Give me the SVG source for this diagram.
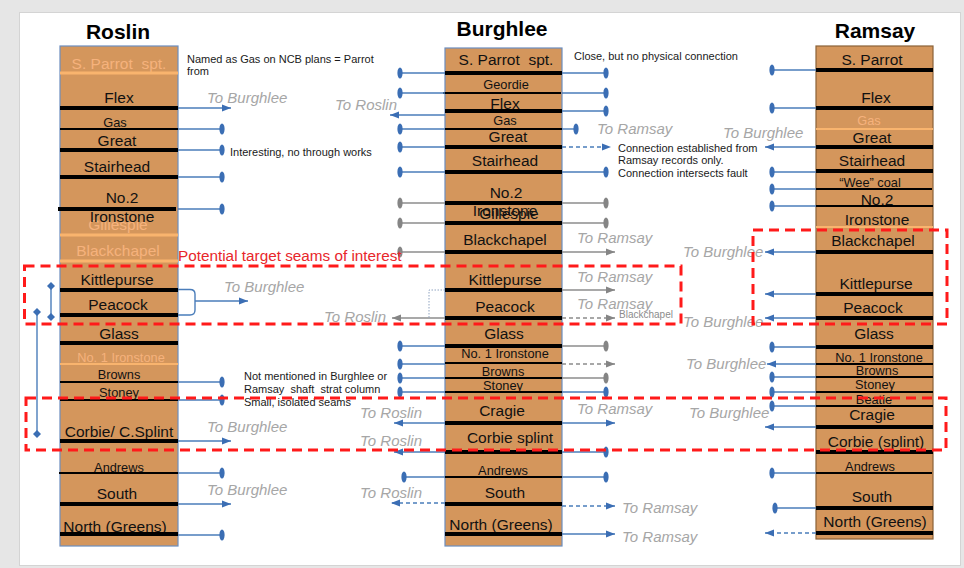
<svg xmlns="http://www.w3.org/2000/svg" width="964" height="568" viewBox="0 0 964 568">
<style>
text{font-family:"Liberation Sans",Arial,sans-serif;white-space:pre}
.title{font-size:21px;font-weight:bold;fill:#000;text-anchor:middle}
.s{font-size:15.5px;fill:#111;text-anchor:middle}
.ss{font-size:12.8px;fill:#111;text-anchor:middle}
.lt{fill:#F6B27C}
.col{fill:#D4965C;stroke:#6C8EBF;stroke-width:1.2}
.colr{fill:#D4965C;stroke:#8A6238;stroke-width:1.2}
.k{stroke:#000;stroke-width:4}
.kt{stroke:#000;stroke-width:1.8}
.o{stroke:#F9B46E;stroke-width:3}
.ot{stroke:#F9B46E;stroke-width:1.8}
.lab{font-size:15px;font-style:italic;fill:#A6A6A6}
.note{font-size:11px;fill:#1a1a1a}
.b{stroke:#4A7DBA;stroke-width:1.4;fill:none}
.g{stroke:#8C8C8C;stroke-width:1.4;fill:none}
.bd{marker-end:url(#bdot)}
.gd{marker-end:url(#gdot)}
.ba{marker-end:url(#barr)}
.ga{marker-end:url(#garr)}
.dash{stroke-dasharray:4 3}
.red{fill:none;stroke:#FF1A1A;stroke-width:3;stroke-dasharray:10 6}
</style>
<defs>
<marker id="bdot" markerUnits="userSpaceOnUse" viewBox="-3 -6 6 12" refX="0" refY="0" markerWidth="6" markerHeight="12"><ellipse cx="0" cy="0" rx="2.6" ry="5.5" fill="#3B6EB4"/></marker>
<marker id="gdot" markerUnits="userSpaceOnUse" viewBox="-3 -6 6 12" refX="0" refY="0" markerWidth="6" markerHeight="12"><ellipse cx="0" cy="0" rx="2.6" ry="5.5" fill="#858585"/></marker>
<marker id="barr" markerUnits="userSpaceOnUse" viewBox="0 0 9 8" refX="9" refY="4" markerWidth="9" markerHeight="8" orient="auto"><path d="M0,0.5 L9,4 L0,7.5 z" fill="#3B6EB4"/></marker>
<marker id="garr" markerUnits="userSpaceOnUse" viewBox="0 0 9 8" refX="9" refY="4" markerWidth="9" markerHeight="8" orient="auto"><path d="M0,0.5 L9,4 L0,7.5 z" fill="#858585"/></marker>
<marker id="dia" markerUnits="userSpaceOnUse" viewBox="-5 -5 10 10" refX="0" refY="0" markerWidth="10" markerHeight="10"><path d="M0,-4 L4,0 L0,4 L-4,0 z" fill="#3B6EB4"/></marker>
</defs>
<rect width="964" height="568" fill="#E6E6E6"/>
<rect x="19.5" y="12.5" width="941" height="553" fill="#FFFFFF" stroke="#D4D4D4"/>

<g id="roslin">
<text class="title" x="118" y="39">Roslin</text>
<rect class="col" x="60" y="46" width="118" height="500"/>
<text class="s lt" x="119" y="69">S. Parrot  spt.</text><line class="o" x1="60" y1="73" x2="178" y2="73"/>
<text class="s" x="119" y="103">Flex</text><line class="k" x1="60" y1="108" x2="178" y2="108"/>
<text class="ss" x="115" y="127">Gas</text><line class="kt" x1="60" y1="129" x2="178" y2="129"/>
<text class="s" x="117" y="146">Great</text><line class="k" x1="60" y1="150" x2="178" y2="150"/>
<text class="s" x="117" y="172">Stairhead</text><line class="k" x1="60" y1="177" x2="178" y2="177"/>
<text class="s" x="122" y="203">No.2</text><line class="k" x1="58" y1="209" x2="176" y2="209"/>
<text class="s lt" x="118" y="230">Gillespie</text>
<text class="s" x="122" y="222">Ironstone</text>
<line class="o" x1="60" y1="235" x2="178" y2="235"/>
<text class="s lt" x="118" y="256">Blackchapel</text><line class="o" x1="60" y1="261" x2="178" y2="261"/>
<text class="s" x="117" y="285">Kittlepurse</text><line class="k" x1="60" y1="290" x2="178" y2="290"/>
<text class="s" x="118" y="310">Peacock</text><line class="k" x1="60" y1="315" x2="178" y2="315"/>
<text class="s" x="119" y="339">Glass</text><line class="k" x1="60" y1="343" x2="178" y2="343"/>
<text class="ss lt" x="121" y="362">No. 1 Ironstone</text><line class="ot" x1="60" y1="364" x2="178" y2="364"/>
<text class="ss" x="119" y="379">Browns</text><line class="kt" x1="60" y1="382" x2="178" y2="382"/>
<text class="ss" x="119" y="397">Stoney</text><line class="kt" x1="60" y1="400" x2="178" y2="400"/>
<text class="s" x="119" y="437">Corbie/ C.Splint</text><line class="k" x1="60" y1="441" x2="178" y2="441"/>
<text class="ss" x="119" y="472">Andrews</text><line class="kt" x1="59" y1="473" x2="178" y2="473"/>
<text class="s" x="117" y="499">South</text><line class="k" x1="60" y1="504" x2="178" y2="504"/>
<text class="s" x="115" y="532">North (Greens)</text><line class="k" x1="60" y1="534" x2="178" y2="534"/>
</g>

<g id="burghlee">
<text class="title" x="502" y="36">Burghlee</text>
<rect class="col" x="445" y="48" width="117" height="498"/>
<text class="s" x="506" y="65">S. Parrot  spt.</text><line class="k" x1="445" y1="73" x2="562" y2="73"/>
<text class="ss" x="506" y="89">Geordie</text><line class="kt" x1="443" y1="93" x2="561" y2="93"/>
<text class="s" x="505" y="109">Flex</text><line class="k" x1="445" y1="111" x2="562" y2="111"/>
<text class="ss" x="505" y="125">Gas</text><line class="kt" x1="445" y1="129" x2="562" y2="129"/>
<text class="s" x="508" y="142">Great</text><line class="k" x1="445" y1="147" x2="562" y2="147"/>
<text class="s" x="505" y="166">Stairhead</text><line class="k" x1="445" y1="172" x2="562" y2="172"/>
<text class="s" x="506" y="198">No.2</text><line class="k" x1="445" y1="203" x2="562" y2="203"/>
<text class="s" x="505" y="216">Ironstone</text>
<text class="s" x="509" y="219">Gillespie</text><line class="k" x1="445" y1="223" x2="562" y2="223"/>
<text class="s" x="505" y="245">Blackchapel</text><line class="k" x1="445" y1="252" x2="562" y2="252"/>
<text class="s" x="505" y="285">Kittlepurse</text><line class="k" x1="445" y1="290" x2="562" y2="290"/>
<text class="s" x="505" y="312">Peacock</text><line class="k" x1="445" y1="318" x2="562" y2="318"/>
<text class="s" x="504" y="339">Glass</text><line class="k" x1="445" y1="346" x2="562" y2="346"/>
<text class="ss" x="505" y="358">No. 1 Ironstone</text><line class="kt" x1="445" y1="363" x2="562" y2="363"/>
<text class="ss" x="503" y="376">Browns</text><line class="kt" x1="445" y1="378" x2="562" y2="378"/>
<text class="ss" x="503" y="390">Stoney</text><line class="kt" x1="445" y1="392" x2="562" y2="392"/>
<text class="s" x="502" y="416">Cragie</text><line class="k" x1="445" y1="423" x2="562" y2="423"/>
<text class="s" x="510" y="443">Corbie splint</text><line class="k" x1="445" y1="452" x2="562" y2="452"/>
<text class="ss" x="503" y="475">Andrews</text><line class="kt" x1="445" y1="477" x2="562" y2="477"/>
<text class="s" x="505" y="498">South</text><line class="k" x1="445" y1="504" x2="562" y2="504"/>
<text class="s" x="501" y="530">North (Greens)</text><line class="k" x1="445" y1="534" x2="562" y2="534"/>
</g>

<g id="ramsay">
<text class="title" x="875" y="38">Ramsay</text>
<rect class="colr" x="816" y="46" width="117" height="493"/>
<text class="s" x="872" y="65">S. Parrot</text><line class="k" x1="816" y1="70" x2="933" y2="70"/>
<text class="s" x="876" y="103">Flex</text><line class="k" x1="816" y1="108" x2="933" y2="108"/>
<text class="ss lt" x="869" y="125">Gas</text><line class="ot" x1="816" y1="129" x2="933" y2="129"/>
<text class="s" x="872" y="143">Great</text><line class="k" x1="816" y1="147" x2="933" y2="147"/>
<text class="s" x="872" y="166">Stairhead</text><line class="k" x1="816" y1="171" x2="933" y2="171"/>
<text class="ss" x="870" y="187">“Wee” coal</text><line class="kt" x1="816" y1="189" x2="932" y2="189"/>
<text class="s" x="877" y="205">No.2</text><line class="kt" x1="816" y1="206" x2="933" y2="206"/>
<line class="ot" x1="816" y1="227" x2="933" y2="227"/>
<text class="s" x="877" y="225">Ironstone</text>
<text class="s" x="873" y="246">Blackchapel</text><line class="k" x1="816" y1="252" x2="933" y2="252"/>
<text class="s" x="876" y="289">Kittlepurse</text><line class="k" x1="816" y1="294" x2="933" y2="294"/>
<text class="s" x="873" y="313">Peacock</text><line class="k" x1="816" y1="318" x2="933" y2="318"/>
<text class="s" x="874" y="339">Glass</text><line class="k" x1="816" y1="347" x2="933" y2="347"/>
<text class="ss" x="879" y="362">No. 1 Ironstone</text><line class="kt" x1="816" y1="364" x2="933" y2="364"/>
<text class="ss" x="877" y="375">Browns</text><line class="kt" x1="816" y1="377" x2="933" y2="377"/>
<text class="ss" x="875" y="389">Stoney</text><line class="kt" x1="816" y1="392" x2="933" y2="392"/>
<text class="ss" x="874" y="404">Beatie</text><line class="kt" x1="816" y1="406" x2="933" y2="406"/>
<text class="s" x="872" y="420">Cragie</text><line class="k" x1="816" y1="427" x2="933" y2="427"/>
<text class="s" x="876" y="447">Corbie (splint)</text><line class="k" x1="816" y1="452" x2="933" y2="452"/>
<text class="ss" x="870" y="471">Andrews</text><line class="kt" x1="816" y1="473" x2="932" y2="473"/>
<text class="s" x="872" y="502">South</text><line class="k" x1="816" y1="508" x2="933" y2="508"/>
<text class="s" x="875" y="527">North (Greens)</text><line class="k" x1="816" y1="533" x2="933" y2="533"/>
</g>

<g id="connectors">
<!-- Roslin -->
<line class="b ba" x1="178" y1="108" x2="231" y2="108"/>
<line class="b bd" x1="178" y1="129" x2="222" y2="129"/>
<line class="b bd" x1="178" y1="150" x2="222" y2="150"/>
<line class="b bd" x1="178" y1="177" x2="222" y2="177"/>
<line class="b bd" x1="178" y1="209" x2="222" y2="209"/>
<path class="b" d="M178,289.5 H190 Q195,289.5 195,294 V310 Q195,315 190,315 H178" stroke-width="2.2"/>
<line class="b ba" x1="195" y1="301" x2="248" y2="301"/>
<line class="b bd" x1="178" y1="382" x2="222" y2="382"/>
<line class="b bd" x1="178" y1="400" x2="222" y2="400"/>
<line class="b ba" x1="178" y1="441" x2="231" y2="441"/>
<line class="b bd" x1="178" y1="473" x2="222" y2="473"/>
<line class="b ba" x1="178" y1="504" x2="231" y2="504"/>
<line class="b bd" x1="178" y1="535" x2="222" y2="535"/>
<line class="b" x1="51" y1="286" x2="51" y2="317" marker-start="url(#dia)" marker-end="url(#dia)"/>
<line class="b" x1="37" y1="312" x2="37" y2="434" marker-start="url(#dia)" marker-end="url(#dia)"/>
<!-- Burghlee left -->
<line class="b bd" x1="445" y1="73" x2="400" y2="73"/>
<line class="b bd" x1="445" y1="93" x2="400" y2="93"/>
<line class="b ba" x1="445" y1="115" x2="390" y2="115"/>
<line class="b bd" x1="445" y1="129" x2="400" y2="129"/>
<line class="b bd" x1="445" y1="147" x2="400" y2="147"/>
<line class="b bd" x1="445" y1="172" x2="400" y2="172"/>
<line class="g gd" x1="445" y1="203" x2="400" y2="203"/>
<line class="g gd" x1="445" y1="223" x2="400" y2="223"/>
<line class="g gd" x1="445" y1="252" x2="400" y2="252"/>
<line class="g ga" x1="445" y1="318" x2="392" y2="318"/>
<path d="M445,290 H429 V318" fill="none" stroke="#8FA3C0" stroke-width="1" stroke-dasharray="1.5 1.5"/>
<line class="b bd" x1="445" y1="346" x2="400" y2="346"/>
<line class="b bd" x1="445" y1="364" x2="400" y2="364"/>
<line class="b bd" x1="445" y1="378" x2="400" y2="378"/>
<line class="b bd" x1="445" y1="392" x2="400" y2="392"/>
<line class="b ba" x1="445" y1="423" x2="394" y2="423"/>
<line class="b ba" x1="445" y1="452" x2="394" y2="452"/>
<line class="b bd" x1="445" y1="477" x2="404" y2="477"/>
<line class="b ba dash" x1="445" y1="503" x2="391" y2="503"/>
<!-- Burghlee right -->
<line class="b bd" x1="562" y1="73" x2="606" y2="73"/>
<line class="b bd" x1="562" y1="93" x2="606" y2="93"/>
<line class="b bd" x1="562" y1="111" x2="606" y2="111"/>
<line class="b bd" x1="562" y1="129" x2="576" y2="129"/>
<line class="b ba dash" x1="562" y1="147" x2="611" y2="147"/>
<line class="b bd" x1="562" y1="172" x2="606" y2="172"/>
<line class="g gd" x1="562" y1="203" x2="606" y2="203"/>
<line class="g gd" x1="562" y1="223" x2="606" y2="223"/>
<line class="g ga" x1="562" y1="252" x2="615" y2="252"/>
<line class="g ga" x1="562" y1="290" x2="615" y2="290"/>
<line class="g ga dash" x1="562" y1="318" x2="615" y2="318"/>
<line class="g gd" x1="562" y1="346" x2="606" y2="346"/>
<line class="g ga dash" x1="562" y1="364" x2="615" y2="364"/>
<line class="g gd" x1="562" y1="378" x2="606" y2="378"/>
<line class="b bd" x1="562" y1="392" x2="606" y2="392"/>
<line class="b ba" x1="562" y1="423" x2="615" y2="423"/>
<line class="b bd" x1="562" y1="452" x2="606" y2="452"/>
<line class="b bd" x1="562" y1="477" x2="606" y2="477"/>
<line class="b ba dash" x1="562" y1="506" x2="615" y2="506"/>
<line class="b ba" x1="562" y1="534" x2="615" y2="534"/>
<!-- Ramsay -->
<line class="b bd" x1="816" y1="70" x2="772" y2="70"/>
<line class="b bd" x1="816" y1="108" x2="772" y2="108"/>
<line class="b ba" x1="816" y1="147" x2="765" y2="147"/>
<line class="b bd" x1="816" y1="172" x2="772" y2="172"/>
<line class="b bd" x1="816" y1="189" x2="772" y2="189"/>
<line class="b bd" x1="816" y1="206" x2="772" y2="206"/>
<line class="b ba" x1="816" y1="252" x2="765" y2="252"/>
<line class="b ba" x1="816" y1="294" x2="765" y2="294"/>
<line class="b ba" x1="816" y1="318" x2="765" y2="318"/>
<line class="b bd" x1="816" y1="347" x2="772" y2="347"/>
<line class="b ba" x1="816" y1="364" x2="767" y2="364"/>
<line class="b bd" x1="816" y1="377" x2="772" y2="377"/>
<line class="b bd" x1="816" y1="392" x2="772" y2="392"/>
<line class="b bd" x1="816" y1="406" x2="772" y2="406"/>
<line class="b ba" x1="816" y1="427" x2="765" y2="427"/>
<line class="b bd" x1="816" y1="473" x2="772" y2="473"/>
<line class="b bd" x1="816" y1="508" x2="775" y2="508"/>
<line class="b ba dash" x1="816" y1="533" x2="765" y2="533"/>
</g>

<g id="labels">
<text class="lab" x="207" y="103">To Burghlee</text>
<text class="lab" x="224" y="292">To Burghlee</text>
<text class="lab" x="207" y="432">To Burghlee</text>
<text class="lab" x="207" y="495">To Burghlee</text>
<text class="lab" x="335" y="110">To Roslin</text>
<text class="lab" x="324" y="322">To Roslin</text>
<text class="lab" x="360" y="418">To Roslin</text>
<text class="lab" x="360" y="446">To Roslin</text>
<text class="lab" x="360" y="498">To Roslin</text>
<text class="lab" x="597" y="134">To Ramsay</text>
<text class="lab" x="577" y="243">To Ramsay</text>
<text class="lab" x="577" y="282">To Ramsay</text>
<text class="lab" x="577" y="309">To Ramsay</text>
<text class="lab" x="577" y="414">To Ramsay</text>
<text class="lab" x="622" y="513">To Ramsay</text>
<text class="lab" x="622" y="542">To Ramsay</text>
<text class="lab" x="723" y="138">To Burghlee</text>
<text class="lab" x="683" y="257">To Burghlee</text>
<text class="lab" x="683" y="327">To Burghlee</text>
<text class="lab" x="686" y="369">To Burghlee</text>
<text class="lab" x="689" y="418">To Burghlee</text>
<text x="619" y="318" font-size="10" fill="#8C8C8C">Blackchapel</text>
<text class="note" x="187" y="63">Named as Gas on NCB plans = Parrot</text>
<text class="note" x="187" y="75">from</text>
<text class="note" x="230" y="156">Interesting, no through works</text>
<text class="note" x="574" y="60">Close, but no physical connection</text>
<text class="note" x="618" y="152">Connection established from</text>
<text class="note" x="618" y="164">Ramsay records only.</text>
<text class="note" x="618" y="177">Connection intersects fault</text>
<text class="note" x="244" y="380">Not mentioned in Burghlee or</text>
<text class="note" x="244" y="393">Ramsay  shaft  strat column</text>
<text class="note" x="244" y="406">Small, isolated seams</text>
</g>

<g id="highlights">
<rect class="red" x="24.5" y="266" width="656.5" height="58"/>
<rect class="red" x="26" y="398" width="920" height="52"/>
<rect class="red" x="753" y="230" width="194" height="94"/>
<text x="178" y="261" font-size="15.3" fill="#E8262A">Potential target seams of interest</text>
</g>
</svg>
